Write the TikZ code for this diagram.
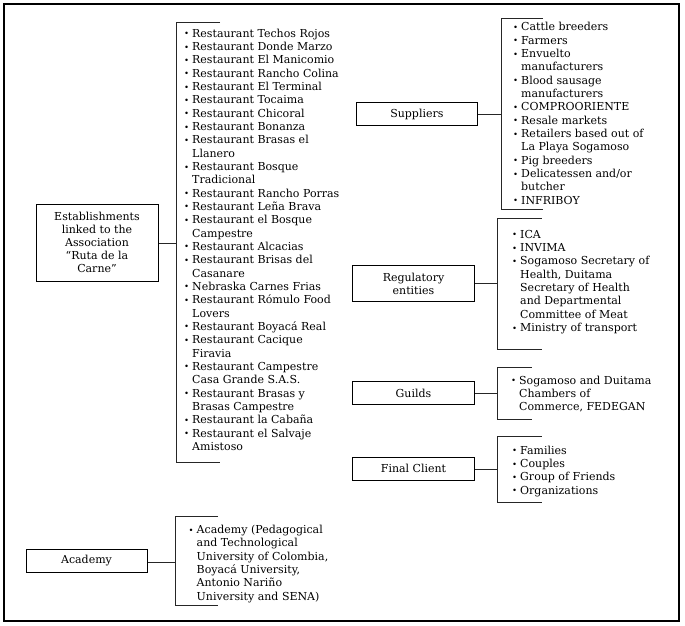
\documentclass[tikz,border=0pt]{standalone}
\usepackage{fontspec}
\setmainfont{DejaVu Serif}
\newcommand\lbul{\makebox[8pt][l]{\raisebox{0.5pt}{\fontsize{8.5}{8.5}\selectfont\textbullet}}}
\newcommand\lcont{\hspace*{8pt}}
\newcommand\ftop{\rule{0pt}{10pt}}
\begin{document}
\begin{tikzpicture}[x=1pt,y=-1pt,
  box/.style={draw=black, line width=1pt, inner sep=0pt, align=center,
    font=\fontsize{11}{13}\selectfont},
  list/.style={anchor=north west, inner sep=0pt, align=left,
    font=\fontsize{11}{13.33}\selectfont},
  link/.style={draw=black!85, line width=0.9pt},
  frame/.style={draw=black, line width=1.3pt}]
\useasboundingbox (0,0) rectangle (685,626);
\draw[frame] (4,4) rectangle (679,621);

% boxes
\node[box, minimum width=122pt, minimum height=77pt] (est) at (97,242.5)
  {Establishments\\linked to the\\Association\\“Ruta de la\\Carne”};
\node[box, minimum width=121.7pt, minimum height=23pt] (sup) at (416.9,114.2) {Suppliers};
\node[box, minimum width=121.6pt, minimum height=36.3pt] (reg) at (413.5,283.8) {Regulatory\\entities};
\node[box, minimum width=121.6pt, minimum height=22.6pt] (gui) at (413.5,393) {Guilds};
\node[box, minimum width=121.6pt, minimum height=22.6pt] (fin) at (413.5,468.7) {Final Client};
\node[box, minimum width=121pt, minimum height=23.4pt] (aca) at (86.5,561) {Academy};

% bracket coordinates
\coordinate (bE) at (176,243);
\coordinate (bS) at (501,114);
\coordinate (bR) at (497.7,283.3);
\coordinate (bG) at (497.7,393.3);
\coordinate (bF) at (497.7,469);
\coordinate (bA) at (175,562);

% brackets
\draw[link] (220,22.7) -- (176,22.7) -- (176,462) -- (220,462);
\draw[link] (543,18.5) -- (501,18.5) -- (501,209) -- (543,209);
\draw[link] (541.7,218.5) -- (497.7,218.5) -- (497.7,349.3) -- (541.7,349.3);
\draw[link] (531.7,367.5) -- (497.7,367.5) -- (497.7,419.2) -- (531.7,419.2);
\draw[link] (541.7,436.7) -- (497.7,436.7) -- (497.7,502.3) -- (541.7,502.3);
\draw[link] (218,516.7) -- (175,516.7) -- (175,605.7) -- (218,605.7);

% connectors
\draw[link] (est.east |- bE) -- (bE);
\draw[link] (sup.east |- bS) -- (bS);
\draw[link] (reg.east |- bR) -- (bR);
\draw[link] (gui.east |- bG) -- (bG);
\draw[link] (fin.east |- bF) -- (bF);
\draw[link] (aca.east |- bA) -- (bA);

% lists
\node[list] (lE) at (184,27) {\ftop\lbul Restaurant Techos Rojos\\
\lbul Restaurant Donde Marzo\\
\lbul Restaurant El Manicomio\\
\lbul Restaurant Rancho Colina\\
\lbul Restaurant El Terminal\\
\lbul Restaurant Tocaima\\
\lbul Restaurant Chicoral\\
\lbul Restaurant Bonanza\\
\lbul Restaurant Brasas el\\
\lcont Llanero\\
\lbul Restaurant Bosque\\
\lcont Tradicional\\
\lbul Restaurant Rancho Porras\\
\lbul Restaurant Leña Brava\\
\lbul Restaurant el Bosque\\
\lcont Campestre\\
\lbul Restaurant Alcacias\\
\lbul Restaurant Brisas del\\
\lcont Casanare\\
\lbul Nebraska Carnes Frias\\
\lbul Restaurant Rómulo Food\\
\lcont Lovers\\
\lbul Restaurant Boyacá Real\\
\lbul Restaurant Cacique\\
\lcont Firavia\\
\lbul Restaurant Campestre\\
\lcont Casa Grande S.A.S.\\
\lbul Restaurant Brasas y\\
\lcont Brasas Campestre\\
\lbul Restaurant la Cabaña\\
\lbul Restaurant el Salvaje\\
\lcont Amistoso};

\node[list] (lS) at (513,20.7) {\ftop\lbul Cattle breeders\\
\lbul Farmers\\
\lbul Envuelto\\
\lcont manufacturers\\
\lbul Blood sausage\\
\lcont manufacturers\\
\lbul COMPROORIENTE\\
\lbul Resale markets\\
\lbul Retailers based out of\\
\lcont La Playa Sogamoso\\
\lbul Pig breeders\\
\lbul Delicatessen and/or\\
\lcont butcher\\
\lbul INFRIBOY};

\node[list] (lR) at (512,228) {\ftop\lbul ICA\\
\lbul INVIMA\\
\lbul Sogamoso Secretary of\\
\lcont Health, Duitama\\
\lcont Secretary of Health\\
\lcont and Departmental\\
\lcont Committee of Meat\\
\lbul Ministry of transport};

\node[list] (lG) at (511,374) {\ftop\lbul Sogamoso and Duitama\\
\lcont Chambers of\\
\lcont Commerce, FEDEGAN};

\node[list] (lF) at (512,444) {\ftop\lbul Families\\
\lbul Couples\\
\lbul Group of Friends\\
\lbul Organizations};

\node[list] (lA) at (188.5,523.3) {\ftop\lbul Academy (Pedagogical\\
\lcont and Technological\\
\lcont University of Colombia,\\
\lcont Boyacá University,\\
\lcont Antonio Nariño\\
\lcont University and SENA)};
\end{tikzpicture}
\end{document}
